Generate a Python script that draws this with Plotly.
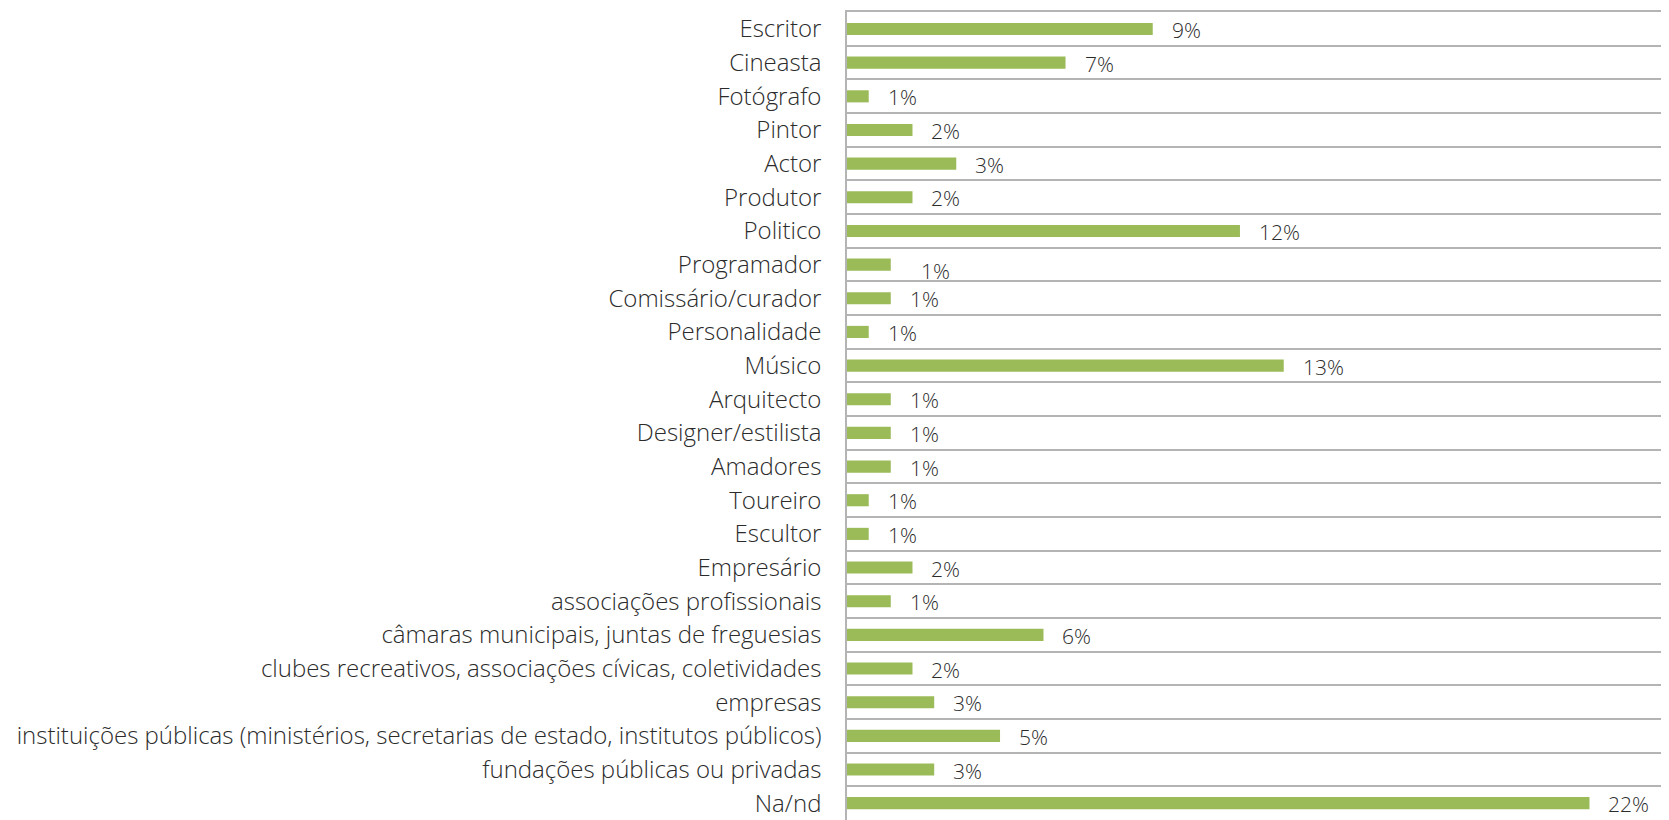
import plotly.graph_objects as go

# categories top -> bottom, share of total (%)
categories = [
    "Escritor", "Cineasta", "Fotógrafo", "Pintor", "Actor", "Produtor", "Politico",
    "Programador", "Comissário/curador", "Personalidade", "Músico", "Arquitecto",
    "Designer/estilista", "Amadores", "Toureiro", "Escultor", "Empresário",
    "associações profissionais", "câmaras municipais, juntas de freguesias",
    "clubes recreativos, associações cívicas, coletividades", "empresas",
    "instituições públicas (ministérios, secretarias de estado, institutos públicos)",
    "fundações públicas ou privadas", "Na/nd",
]
shares = [9.15, 6.54, 0.65, 1.96, 3.27, 1.96, 11.76, 1.31, 1.31, 0.65, 13.07, 1.31,
          1.31, 1.31, 0.65, 0.65, 1.96, 1.31, 5.88, 1.96, 2.61, 4.58, 2.61, 22.22]
labels = ["9%", "7%", "1%", "2%", "3%", "2%", "12%", "1%", "1%", "1%", "13%", "1%",
          "1%", "1%", "1%", "1%", "2%", "1%", "6%", "2%", "3%", "5%", "3%", "22%"]

font_family = "'Open Sans', sans-serif"
text_color = "#2b2b2b"
grid_color = "#b4b4b4"

fig = go.Figure(go.Bar(
    x=shares, y=categories, orientation="h",
    marker=dict(color="#9bbb59", line=dict(width=0)),
    hoverinfo="skip",
))

for cat, val, lab in zip(categories, shares, labels):
    # the Programador label sits a bit off in the original
    dx, dy = (28, -6) if cat == "Programador" else (17, -1)
    fig.add_annotation(x=val, y=cat, text=lab, showarrow=False, xanchor="left",
                       xshift=dx, yshift=dy,
                       font=dict(family=font_family, size=21, color=text_color, weight=300))

# page body has an 8px margin, so the figure is shifted by that much
fig.update_layout(
    width=1661, height=812,
    margin=dict(l=839, r=0, t=4, b=0),
    plot_bgcolor="white", paper_bgcolor="white",
    bargap=0.64, showlegend=False,
    font=dict(family=font_family, size=21, color=text_color),
)
fig.update_xaxes(range=[0, 24.6], showgrid=False, zeroline=False, showticklabels=False,
                 showline=True, mirror=True, linecolor=grid_color, linewidth=1.5,
                 automargin=False, fixedrange=True)
fig.update_yaxes(autorange="reversed", type="category", tickson="boundaries",
                 showgrid=True, gridcolor=grid_color, gridwidth=1.5,
                 showline=True, linecolor=grid_color, linewidth=1.5,
                 ticks="", ticklabelstandoff=19, automargin=False,
                 tickfont=dict(family=font_family, size=24, color=text_color, weight=300))

fig.write_html("out.html")
